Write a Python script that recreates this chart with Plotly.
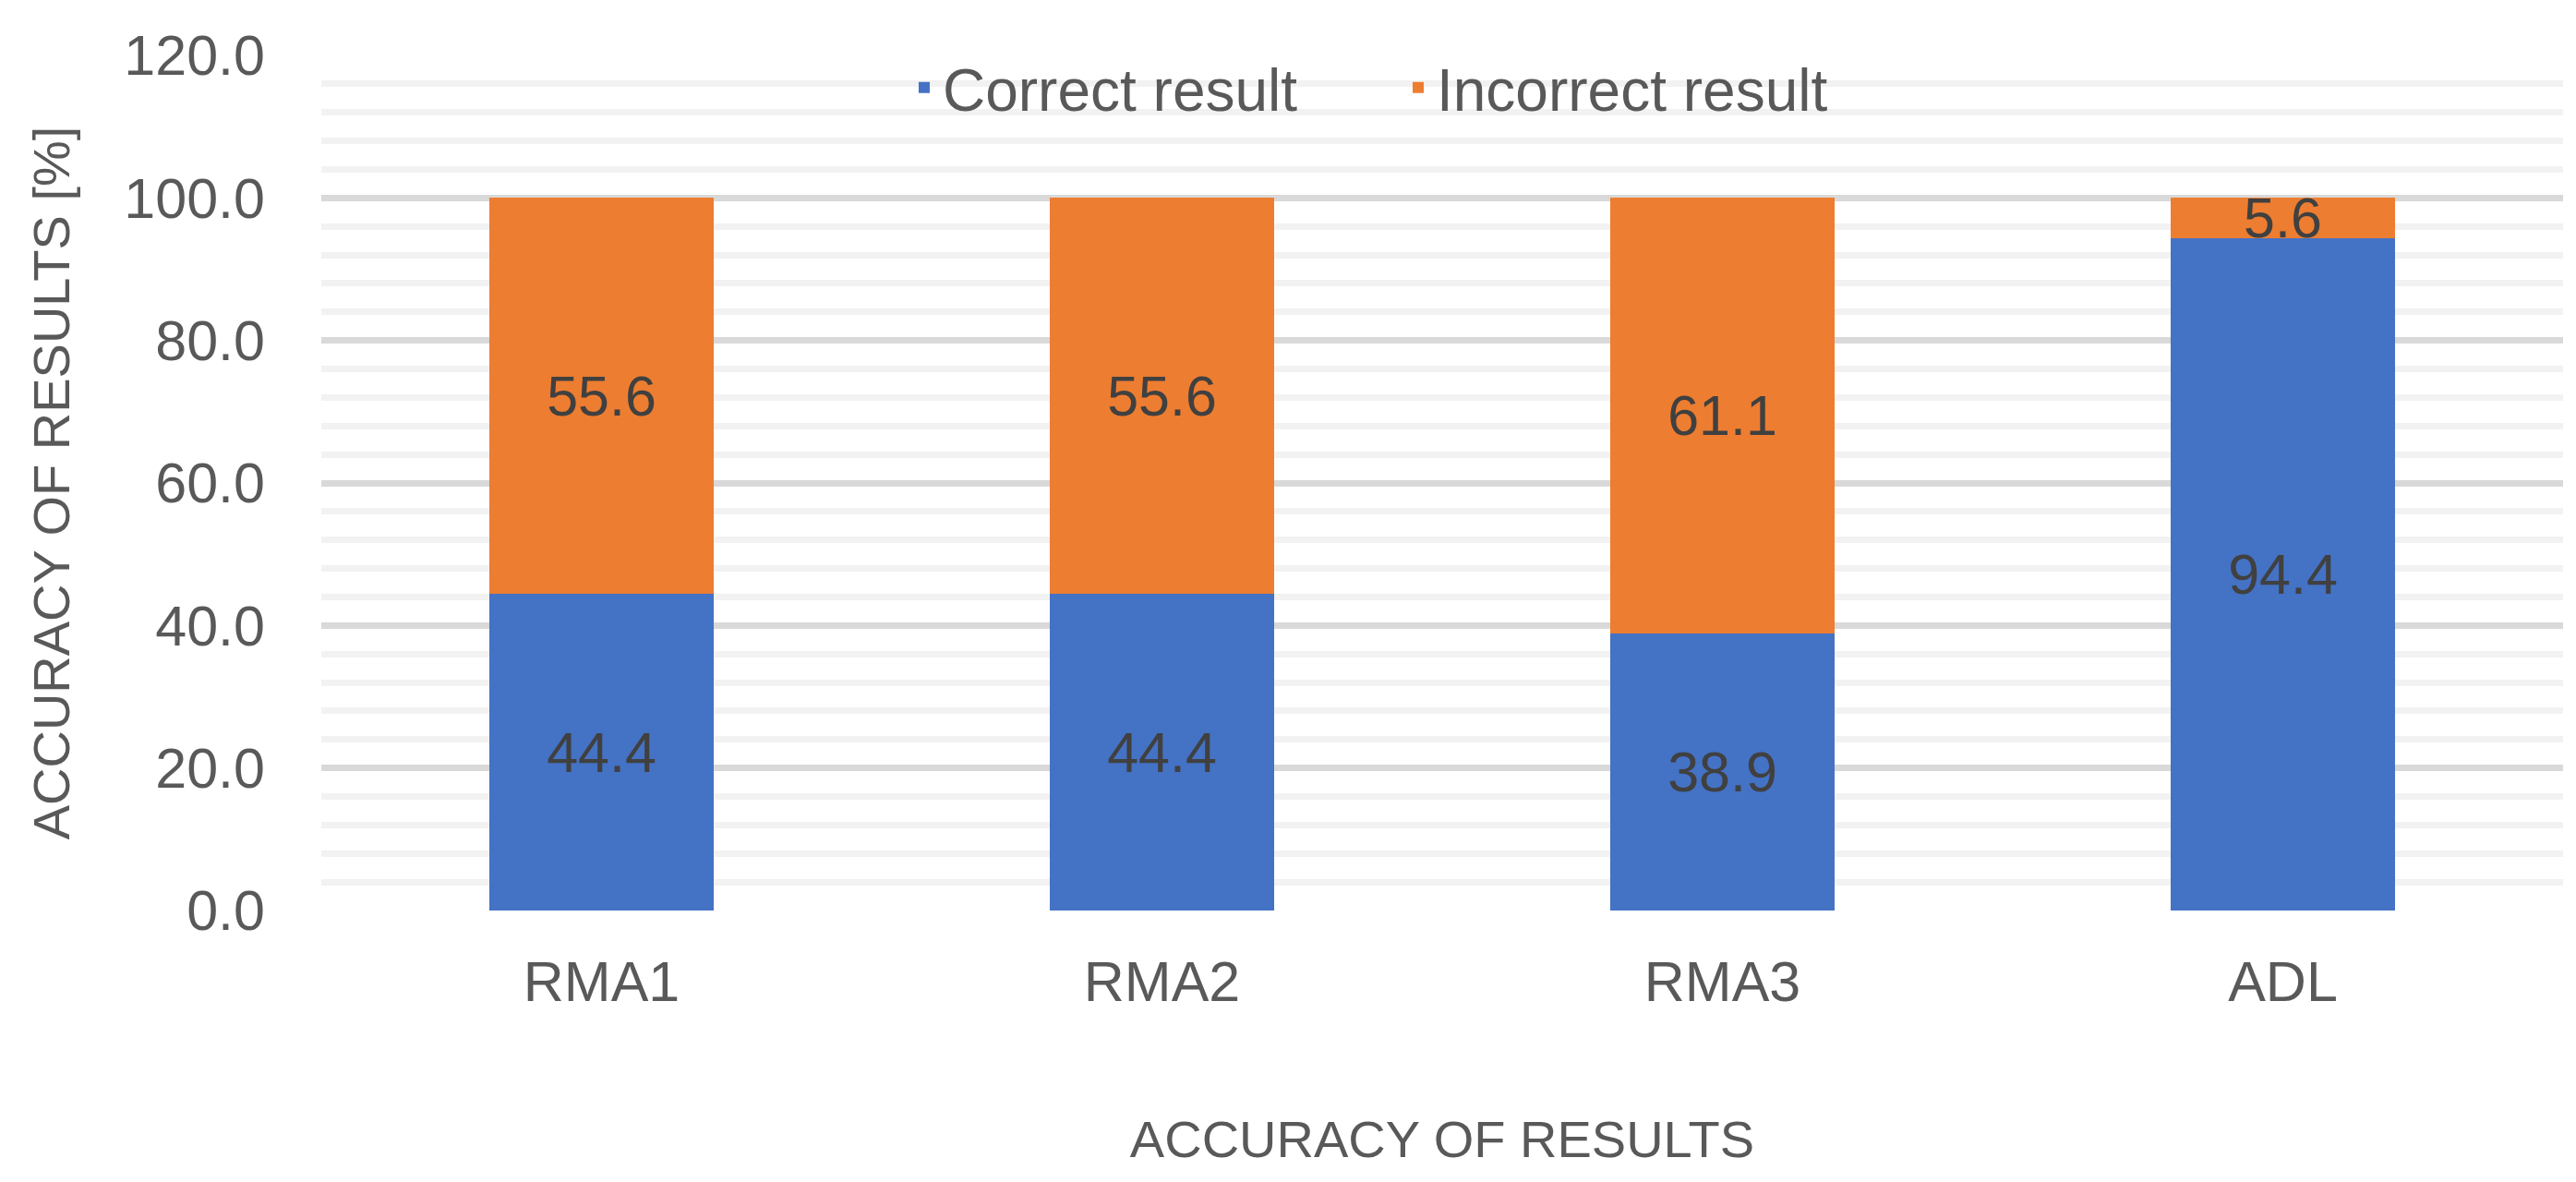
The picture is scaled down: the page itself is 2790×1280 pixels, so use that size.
import plotly.graph_objects as go

categories = ["RMA1", "RMA2", "RMA3", "ADL"]
correct = [44.4, 44.4, 38.9, 94.4]
incorrect = [55.6, 55.6, 61.1, 5.6]
series_names = ["Correct result", "Incorrect result"]
y_ticks = [0, 20, 40, 60, 80, 100, 120]

FONT = "Liberation Sans, Arial, sans-serif"
FS_TICK = 61
FS_LABEL = 61
FS_TITLE = 56
FS_LEGEND = 64

fig = go.Figure()
for name, vals, color in [(series_names[0], correct, "#4472C4"),
                          (series_names[1], incorrect, "#ED7D31")]:
    fig.add_trace(go.Bar(
        x=categories, y=vals, name=name,
        marker=dict(color=color, line=dict(width=0)),
        text=[f"{v:.1f}" for v in vals],
        textposition="inside", insidetextanchor="middle",
        constraintext="none",
        textfont=dict(family=FONT, size=FS_LABEL, color="#404040"),
        cliponaxis=False,
    ))

fig.update_layout(
    width=2790, height=1280,
    barmode="stack", bargap=0.6,
    paper_bgcolor="white", plot_bgcolor="white",
    margin=dict(l=340, r=22, t=52, b=302),
    font=dict(family=FONT, size=FS_TICK, color="#595959"),
    legend=dict(orientation="h", x=0.2607, xanchor="left", y=0.962, yanchor="middle",
                entrywidth=490, entrywidthmode="pixels",
                font=dict(family=FONT, size=FS_LEGEND, color="#595959"),
                bgcolor="rgba(0,0,0,0)", traceorder="normal"),
    showlegend=True,
)
fig.update_yaxes(
    range=[0, 120], tickvals=y_ticks, tickformat=".1f",
    showgrid=True, gridcolor="#d9d9d9", gridwidth=7,
    minor=dict(dtick=4, showgrid=True, gridcolor="#f2f2f2", gridwidth=7),
    zeroline=False, showline=False, ticks="",
    ticklabelstandoff=60,
    tickfont=dict(family=FONT, size=FS_TICK, color="#595959"),
    title=dict(text="ACCURACY OF RESULTS [%]", standoff=40,
               font=dict(family=FONT, size=FS_TITLE, color="#595959")),
)
fig.update_xaxes(
    showgrid=False, showline=False, ticks="", zeroline=False,
    ticklabelstandoff=36,
    tickfont=dict(family=FONT, size=FS_TICK, color="#595959"),
    title=dict(text="ACCURACY OF RESULTS", standoff=117,
               font=dict(family=FONT, size=FS_TITLE, color="#595959")),
)

fig.write_html("out.html")
